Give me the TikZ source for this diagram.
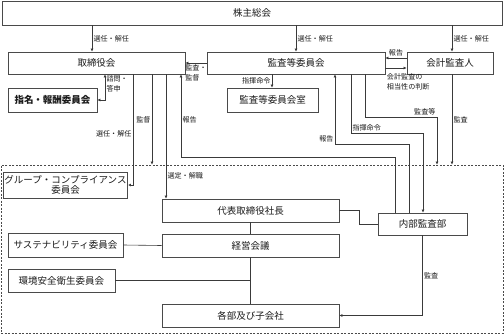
\documentclass[tikz,border=0pt]{standalone}
\usepackage{fontspec}
\setmainfont{Noto Sans CJK JP}
\usepackage{xcolor}
\usepackage{tikz}
\usetikzlibrary{arrows.meta,calc}
\definecolor{linedark}{HTML}{3A3A3A}
\definecolor{boxedge}{HTML}{4A4A4A}
\definecolor{textmain}{HTML}{1A1A1A}
\tikzset{
  orgbox/.style={draw=boxedge,line width=0.9pt,fill=white,text=textmain,
    font=\fontsize{9.5}{11}\selectfont,inner sep=1pt,align=center},
  lbl/.style={font=\fontsize{7.1}{9.6}\selectfont,text=textmain,inner sep=1.2pt},
  ln/.style={draw=linedark,line width=0.6pt},
  arr/.style={ln,-{Latex[length=3pt,width=3pt]}},
  arrtwo/.style={ln,{Latex[length=3pt,width=3pt]}-{Latex[length=3pt,width=3pt]}}
}

\begin{document}
\begin{tikzpicture}[x=1pt,y=-1pt]
  \useasboundingbox (0,0) rectangle (504,335);
  \node[draw=boxedge,line width=0.7pt,dash pattern=on 2pt off 1.5pt,
    minimum width=502pt,minimum height=168pt] (grp) at (252,249) {};
  \node[orgbox,minimum width=500pt,minimum height=24pt] (soukai) at (252,13) {株主総会};
  \node[orgbox,minimum width=177pt,minimum height=22pt] (torishimari) at (96.5,63) {取締役会};
  \node[orgbox,minimum width=178pt,minimum height=22pt] (kansa) at (296,63) {監査等委員会};
  \node[orgbox,minimum width=86pt,minimum height=22pt] (kaikei) at (450,63) {会計監査人};
  \node[orgbox,minimum width=89pt,minimum height=24pt] (shimei) at (52.5,100) {\bfseries 指名・報酬委員会};
  \node[orgbox,minimum width=91pt,minimum height=24pt] (kansashitsu) at (272.5,100) {監査等委員会室};
  \node[orgbox,minimum width=115pt,minimum height=26pt,
    font=\fontsize{9.5}{9.5}\selectfont] (group) at (65.5,185) {グループ・コンプライアンス\\委員会};
  \node[orgbox,minimum width=177pt,minimum height=23pt] (daihyo) at (250.5,210.5) {代表取締役社長};
  \node[orgbox,minimum width=177pt,minimum height=23pt] (keiei) at (250.5,245.5) {経営会議};
  \node[orgbox,minimum width=177pt,minimum height=23pt] (kakubu) at (250.5,315.5) {各部及び子会社};
  \node[orgbox,minimum width=115pt,minimum height=24pt] (sustain) at (65.5,245) {サステナビリティ委員会};
  \node[orgbox,minimum width=107pt,minimum height=23pt] (kankyo) at (61.5,280.5) {環境安全衛生委員会};
  \node[orgbox,minimum width=89pt,minimum height=22pt] (naibu) at (422.5,224) {内部監査部};

  \draw[arr] (soukai.south -| 92,0) -- node[lbl,right] {選任・解任} (torishimari.north -| 92,0);
  \draw[arr] (soukai.south -| kansa.north) -- node[lbl,right] {選任・解任} (kansa.north);
  \draw[arr] (soukai.south -| 452,0) -- node[lbl,right] {選任・解任} (kaikei.north -| 452,0);

  \draw[arr] (kansa.west) -- node[lbl,below,align=left] {監査・\\監督} (torishimari.east);
  \draw[arr] (kaikei.west |- 0,58) -- node[lbl,above] {報告} (kansa.east |- 0,58);
  \draw[arr] (kansa.east |- 0,68) node[lbl,anchor=north west,align=left,yshift=-4pt]
    {会計監査の\\相当性の判断} -- (kaikei.west |- 0,68);

  \draw[arrtwo] (torishimari.south -| 105,0) node[lbl,below right,align=left] {諮問・\\答申}
    |- (shimei.east);
  \draw[arr] (torishimari.south -| 133,0) |- node[lbl,left,pos=0.27] {選任・解任} (group.east);
  \draw[arr] (torishimari.south -| 152,0) -- node[lbl,left] {監督} (grp.north -| 152,0);
  \draw[arr] (torishimari.south -| 166,0) -- node[lbl,right,pos=0.82] {選定・解職} (daihyo.north -| 166,0);
  \draw[arr] (naibu.north -| 395,0) |- (181,157)
    -- node[lbl,right,pos=0.45] {報告} (torishimari.south -| 181,0);

  \draw[arr] (kansa.south -| 272,0) -- node[lbl,left] {指揮命令} (kansashitsu.north -| 272,0);
  \draw[arr] (naibu.north -| 409,0) |- (335,144)
    -- node[lbl,above left,pos=0] {報告} (kansa.south -| 335,0);
  \draw[arr] (kansa.south -| 351,0) |- node[lbl,above right,pos=0.5] {指揮命令} (423,133)
    -- (naibu.north -| 423,0);
  \draw[arr] (kansa.south -| 365,0) |- (437,117)
    -- node[lbl,above left,pos=0] {監査等} (grp.north -| 437,0);
  \draw[arr] (kaikei.south -| 452,0) -- node[lbl,right] {監査} (grp.north -| 452,0);

  \draw[ln] (daihyo.east) -| (359,224) -- (naibu.west);
  \draw[ln] (daihyo.south) -- (keiei.north);
  \draw[ln] (keiei.south) -- (kakubu.north);
  \draw[ln] (sustain.east) -- (keiei.west);
  \draw[ln] (kankyo.east) -- (kankyo.east -| keiei.south);
  \draw[arr] (naibu.south) |- node[lbl,right,pos=0.25] {監査} (kakubu.east);
\end{tikzpicture}
\end{document}
